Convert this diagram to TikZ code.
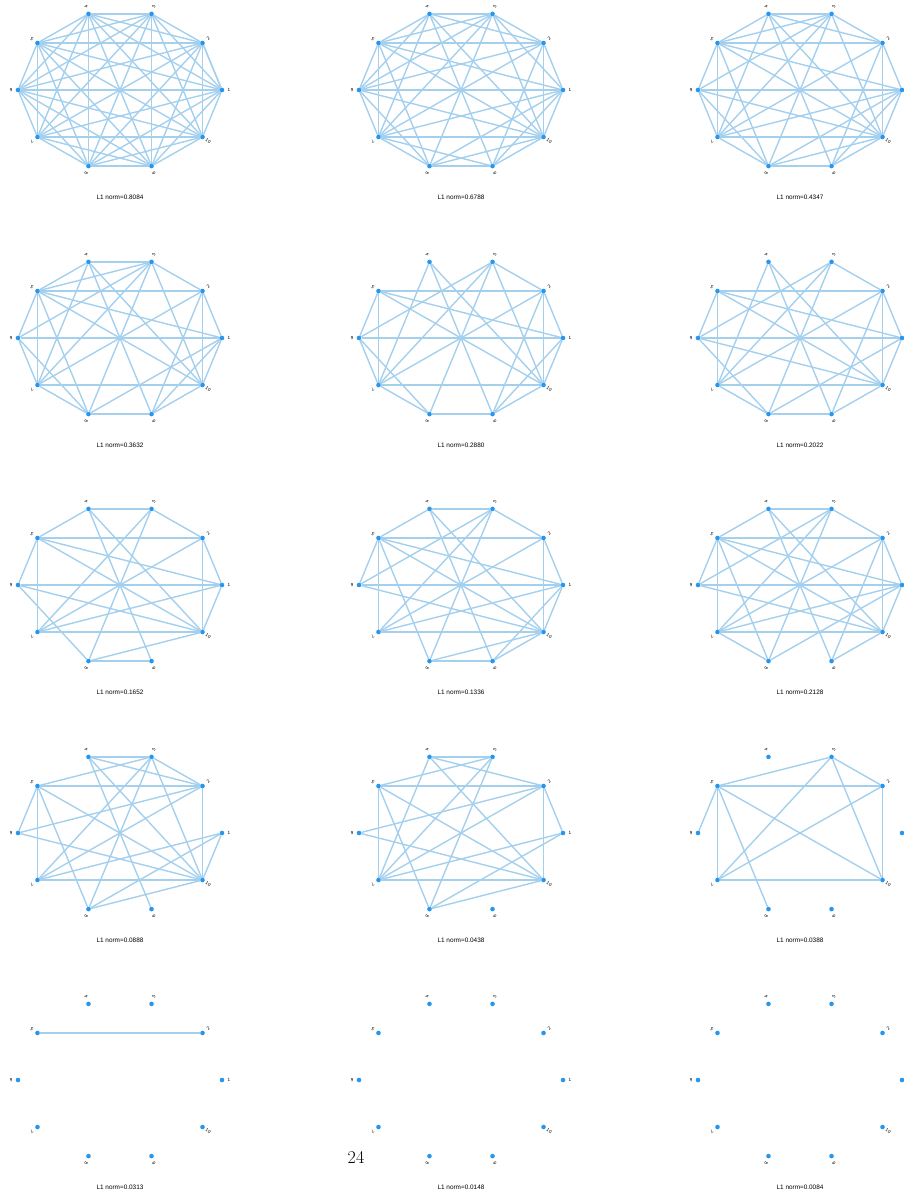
\documentclass[tikz,border=0pt]{standalone}
\usepackage{fontspec}
\newfontfamily\capfont{Liberation Sans}
\usetikzlibrary{backgrounds}
\definecolor{edgeblue}{RGB}{164,208,238}
\definecolor{dotblue}{RGB}{38,150,238}
\tikzset{
  vtx/.style={circle, fill=dotblue, inner sep=0pt, minimum size=4.6pt},
  vlabel/.style={font=\capfont\fontsize{4.6}{5}\selectfont, inner sep=0pt},
  gedge/.style={draw=edgeblue, line width=1.4pt},
  normlabel/.style={font=\capfont\fontsize{6.4}{7}\selectfont, inner sep=0pt}
}
% one graph: name, centre x, centre y, caption, edge list
\newcommand{\gpanel}[5]{
  \foreach \k in {1,...,10} {
    \pgfmathsetmacro{\ang}{36*(\k-1)}
    \node[vtx] (#1v\k) at ({#2+102*cos(\ang)}, {#3-80*sin(\ang)}) {};
    % labels past the page edge are not shown
    \pgfmathtruncatemacro{\inpage}{(#2+109*cos(\ang) < 900) ? 1 : 0}
    \ifnum\inpage=1
      \node[vlabel, rotate=\ang] (#1t\k) at ({#2+109*cos(\ang)}, {#3-87*sin(\ang)}) {\k};
    \fi
  }
  \begin{pgfonlayer}{background}
  \foreach \a/\b in {#5} \draw[gedge] (#1v\a) -- (#1v\b);
  \end{pgfonlayer}
  \node[normlabel] (#1cap) at (#2, #3+107) {#4};
}
\begin{document}
\begin{tikzpicture}[x=1pt, y=-1pt]
\useasboundingbox (0,0) rectangle (904,1194);
% row 1
\gpanel{ga}{120}{90}{L1 norm=0.8084}{1/2}
\begin{pgfonlayer}{background}
\foreach \a in {1,...,9} {
  \pgfmathtruncatemacro{\nxt}{\a+1}
  \foreach \b in {\nxt,...,10} \draw[gedge] (gav\a) -- (gav\b);
}
\end{pgfonlayer}
\gpanel{gb}{461}{90}{L1 norm=0.6788}{1/2,1/3,1/5,1/6,1/7,1/8,1/9,1/10,
  2/3,2/4,2/5,2/6,2/7,2/9,2/10,3/4,3/5,3/6,3/7,3/8,3/10,
  4/5,4/6,4/7,4/9,4/10,5/6,5/7,5/8,5/10,6/7,6/8,6/10,7/8,7/9,7/10,8/9,8/10,9/10}
\gpanel{gc}{800}{90}{L1 norm=0.4347}{1/2,1/5,1/6,1/7,1/8,1/9,1/10,
  2/3,2/4,2/5,2/7,2/9,2/10,3/4,3/5,3/6,3/7,3/8,3/10,
  4/5,4/7,4/9,4/10,5/6,5/7,5/8,5/10,6/7,6/8,6/10,7/8,7/10,8/9,8/10,9/10}
% row 2
\gpanel{gd}{120}{338}{L1 norm=0.3632}{1/2,1/5,1/6,1/8,1/9,1/10,
  2/3,2/5,2/7,2/9,2/10,3/4,3/5,3/6,3/7,3/8,3/10,
  4/5,4/7,4/9,4/10,5/6,5/7,5/8,5/10,6/7,6/8,7/8,7/10,8/9,9/10}
\gpanel{ge}{461}{338}{L1 norm=0.2880}{1/2,1/5,1/6,1/9,1/10,
  2/3,2/5,2/7,2/9,2/10,3/6,3/7,3/8,3/10,
  4/7,4/9,4/10,5/6,5/7,5/10,6/7,6/8,7/8,7/10,8/9,9/10}
\gpanel{gf}{800}{338}{L1 norm=0.2022}{1/2,1/5,1/6,1/8,1/10,
  2/3,2/5,2/7,2/9,2/10,3/6,3/7,3/8,
  4/7,4/9,4/10,5/6,5/7,5/10,6/8,6/10,7/8,7/10,8/9,9/10}
% row 3
\gpanel{gg}{120}{585}{L1 norm=0.1652}{1/2,1/5,1/6,1/7,1/10,
  2/3,2/5,2/7,2/10,3/4,3/7,3/8,
  4/5,4/9,4/10,5/6,5/7,5/10,6/8,6/10,7/10,8/9,8/10}
\gpanel{gh}{461}{585}{L1 norm=0.1336}{1/2,1/5,1/6,1/7,1/9,1/10,
  2/3,2/5,2/7,2/10,3/4,3/6,3/7,3/8,
  4/5,4/9,4/10,5/6,5/7,5/8,5/10,6/10,7/10,8/9,8/10,9/10}
\gpanel{gi}{800}{585}{L1 norm=0.2128}{1/2,1/5,1/6,1/7,1/8,1/10,
  2/3,2/5,2/7,2/9,2/10,3/4,3/6,3/7,3/8,
  4/5,4/9,4/10,5/6,5/7,5/8,5/10,6/10,7/8,7/10,9/10}
% row 4
\gpanel{gj}{120}{833}{L1 norm=0.0888}{4/3,5/2,7/10,5/7,2/10,5/3,4/2,4/10,4/9,
  3/2,3/10,3/8,3/7,6/2,6/10,6/5,1/7,1/8,1/10,8/10,5/8,5/10,2/7}
\gpanel{gk}{461}{833}{L1 norm=0.0438}{4/3,5/2,7/10,5/7,2/10,5/3,4/2,4/10,
  3/8,3/7,6/2,6/10,1/7,1/8,5/8,5/10,2/7,8/10,4/7,1/2}
\gpanel{gl}{800}{833}{L1 norm=0.0388}{5/2,5/7,7/10,2/10,5/3,3/2,3/7,3/10,5/10,2/7,5/6,5/8}
% row 5
\gpanel{gm}{120}{1080}{L1 norm=0.0313}{5/2}
\gpanel{gn}{461}{1080}{L1 norm=0.0148}{}
\gpanel{go}{800}{1080}{L1 norm=0.0084}{}
% page number
\node[font=\fontsize{18}{20}\selectfont] (pagenum) at (356,1157) {24};
\end{tikzpicture}
\end{document}
